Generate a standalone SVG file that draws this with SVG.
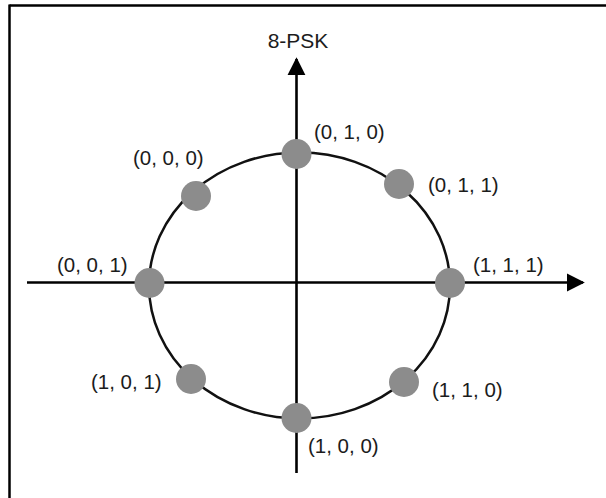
<svg xmlns="http://www.w3.org/2000/svg" width="606" height="498" viewBox="0 0 606 498">
  <style>
    .frame { stroke: #000; stroke-width: 2.5; fill: none; }
    .axis { stroke: #000; stroke-width: 2.6; fill: none; }
    .ring { stroke: #111; stroke-width: 2.5; fill: none; }
    .dot { fill: #8c8c8c; }
    .lbl { font-family: "Liberation Sans", Arial, sans-serif; font-size: 20.5px; fill: #1c1c1c; }
    .title { font-family: "Liberation Sans", Arial, sans-serif; font-size: 21px; fill: #1c1c1c; text-anchor: middle; }
  </style>
  <defs>
    <marker id="arrow" viewBox="0 0 10 10" refX="9" refY="5" markerWidth="7" markerHeight="7.5" markerUnits="strokeWidth" orient="auto">
      <path d="M0,0 L10,5 L0,10 z" fill="#000"/>
    </marker>
  </defs>
  <rect width="606" height="498" fill="#fff"/>
  <g id="frame">
    <line class="frame" x1="9.5" y1="5.5" x2="606" y2="5.5"/>
    <line class="frame" x1="9.5" y1="4.5" x2="9.5" y2="498"/>
  </g>
  <g id="connectors">
    <line class="axis" x1="27" y1="282.5" x2="583" y2="282.5" marker-end="url(#arrow)"/>
    <line class="axis" x1="296.5" y1="473" x2="296.5" y2="59" marker-end="url(#arrow)"/>
    <ellipse class="ring" cx="299.5" cy="285.5" rx="150.5" ry="133"/>
  </g>
  <text class="title" x="298" y="48">8-PSK</text>
  <g id="n010"><circle class="dot" cx="296.5" cy="154" r="15"/><text class="lbl" x="314" y="139">(0, 1, 0)</text></g>
  <g id="n000"><circle class="dot" cx="196" cy="196" r="15"/><text class="lbl" x="133" y="165">(0, 0, 0)</text></g>
  <g id="n011"><circle class="dot" cx="399" cy="184" r="15"/><text class="lbl" x="428" y="192">(0, 1, 1)</text></g>
  <g id="n001"><circle class="dot" cx="149.5" cy="283" r="15"/><text class="lbl" x="57" y="272">(0, 0, 1)</text></g>
  <g id="n111"><circle class="dot" cx="450" cy="283" r="15"/><text class="lbl" x="473" y="272">(1, 1, 1)</text></g>
  <g id="n101"><circle class="dot" cx="191" cy="379" r="15"/><text class="lbl" x="91" y="389">(1, 0, 1)</text></g>
  <g id="n110"><circle class="dot" cx="404" cy="382" r="15"/><text class="lbl" x="432" y="397">(1, 1, 0)</text></g>
  <g id="n100"><circle class="dot" cx="296.5" cy="418" r="15"/><text class="lbl" x="308" y="453">(1, 0, 0)</text></g>
</svg>
